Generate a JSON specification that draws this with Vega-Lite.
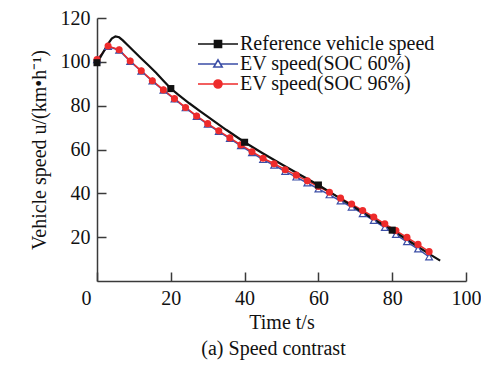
{
  "$schema": "https://vega.github.io/schema/vega-lite/v6.json",
  "width": 369,
  "height": 263,
  "autosize": {"type": "none"},
  "padding": {"left": 97, "top": 18, "right": 15, "bottom": 84},
  "background": "white",
  "title": {
    "text": "(a) Speed contrast",
    "orient": "bottom",
    "anchor": "middle",
    "font": "Liberation Serif",
    "fontSize": 20,
    "fontWeight": "normal",
    "color": "#111111",
    "offset": 7,
    "dx": -8
  },
  "data": {
    "values": [
      {"series": "Reference vehicle speed", "t": 0, "v": 99.6, "marker": true},
      {"series": "Reference vehicle speed", "t": 1, "v": 102.4, "marker": false},
      {"series": "Reference vehicle speed", "t": 2, "v": 105.3, "marker": false},
      {"series": "Reference vehicle speed", "t": 3, "v": 108.2, "marker": false},
      {"series": "Reference vehicle speed", "t": 4, "v": 110.6, "marker": false},
      {"series": "Reference vehicle speed", "t": 5, "v": 111.6, "marker": false},
      {"series": "Reference vehicle speed", "t": 6, "v": 111.2, "marker": false},
      {"series": "Reference vehicle speed", "t": 7, "v": 109.8, "marker": false},
      {"series": "Reference vehicle speed", "t": 8, "v": 108.1, "marker": false},
      {"series": "Reference vehicle speed", "t": 10, "v": 104.8, "marker": false},
      {"series": "Reference vehicle speed", "t": 12, "v": 101.5, "marker": false},
      {"series": "Reference vehicle speed", "t": 14, "v": 98.3, "marker": false},
      {"series": "Reference vehicle speed", "t": 16, "v": 95.0, "marker": false},
      {"series": "Reference vehicle speed", "t": 18, "v": 91.4, "marker": false},
      {"series": "Reference vehicle speed", "t": 20, "v": 87.8, "marker": true},
      {"series": "Reference vehicle speed", "t": 22, "v": 85.0, "marker": false},
      {"series": "Reference vehicle speed", "t": 25, "v": 81.1, "marker": false},
      {"series": "Reference vehicle speed", "t": 28, "v": 77.4, "marker": false},
      {"series": "Reference vehicle speed", "t": 30, "v": 75.0, "marker": false},
      {"series": "Reference vehicle speed", "t": 35, "v": 69.0, "marker": false},
      {"series": "Reference vehicle speed", "t": 40, "v": 63.3, "marker": true},
      {"series": "Reference vehicle speed", "t": 45, "v": 58.2, "marker": false},
      {"series": "Reference vehicle speed", "t": 50, "v": 53.3, "marker": false},
      {"series": "Reference vehicle speed", "t": 55, "v": 48.5, "marker": false},
      {"series": "Reference vehicle speed", "t": 60, "v": 43.8, "marker": true},
      {"series": "Reference vehicle speed", "t": 65, "v": 38.6, "marker": false},
      {"series": "Reference vehicle speed", "t": 70, "v": 33.4, "marker": false},
      {"series": "Reference vehicle speed", "t": 75, "v": 28.2, "marker": false},
      {"series": "Reference vehicle speed", "t": 80, "v": 23.2, "marker": true},
      {"series": "Reference vehicle speed", "t": 85, "v": 17.8, "marker": false},
      {"series": "Reference vehicle speed", "t": 90, "v": 12.4, "marker": false},
      {"series": "Reference vehicle speed", "t": 93, "v": 9.3, "marker": false},

      {"series": "EV speed(SOC 60%)", "t": 0, "v": 101.0, "marker": true},
      {"series": "EV speed(SOC 60%)", "t": 3, "v": 107.0, "marker": true},
      {"series": "EV speed(SOC 60%)", "t": 6, "v": 105.3, "marker": true},
      {"series": "EV speed(SOC 60%)", "t": 9, "v": 100.2, "marker": true},
      {"series": "EV speed(SOC 60%)", "t": 12, "v": 95.7, "marker": true},
      {"series": "EV speed(SOC 60%)", "t": 15, "v": 91.2, "marker": true},
      {"series": "EV speed(SOC 60%)", "t": 18, "v": 87.0, "marker": true},
      {"series": "EV speed(SOC 60%)", "t": 21, "v": 83.0, "marker": true},
      {"series": "EV speed(SOC 60%)", "t": 24, "v": 79.0, "marker": true},
      {"series": "EV speed(SOC 60%)", "t": 27, "v": 75.1, "marker": true},
      {"series": "EV speed(SOC 60%)", "t": 30, "v": 71.5, "marker": true},
      {"series": "EV speed(SOC 60%)", "t": 33, "v": 68.2, "marker": true},
      {"series": "EV speed(SOC 60%)", "t": 36, "v": 65.0, "marker": true},
      {"series": "EV speed(SOC 60%)", "t": 39, "v": 61.7, "marker": true},
      {"series": "EV speed(SOC 60%)", "t": 42, "v": 58.5, "marker": true},
      {"series": "EV speed(SOC 60%)", "t": 45, "v": 55.4, "marker": true},
      {"series": "EV speed(SOC 60%)", "t": 48, "v": 52.8, "marker": true},
      {"series": "EV speed(SOC 60%)", "t": 51, "v": 50.0, "marker": true},
      {"series": "EV speed(SOC 60%)", "t": 54, "v": 47.4, "marker": true},
      {"series": "EV speed(SOC 60%)", "t": 57, "v": 44.7, "marker": true},
      {"series": "EV speed(SOC 60%)", "t": 60, "v": 42.0, "marker": true},
      {"series": "EV speed(SOC 60%)", "t": 63, "v": 39.3, "marker": true},
      {"series": "EV speed(SOC 60%)", "t": 66, "v": 36.5, "marker": true},
      {"series": "EV speed(SOC 60%)", "t": 69, "v": 33.7, "marker": true},
      {"series": "EV speed(SOC 60%)", "t": 72, "v": 30.7, "marker": true},
      {"series": "EV speed(SOC 60%)", "t": 75, "v": 27.6, "marker": true},
      {"series": "EV speed(SOC 60%)", "t": 78, "v": 24.4, "marker": true},
      {"series": "EV speed(SOC 60%)", "t": 81, "v": 21.2, "marker": true},
      {"series": "EV speed(SOC 60%)", "t": 84, "v": 17.9, "marker": true},
      {"series": "EV speed(SOC 60%)", "t": 87, "v": 14.6, "marker": true},
      {"series": "EV speed(SOC 60%)", "t": 90, "v": 11.0, "marker": true},

      {"series": "EV speed(SOC 96%)", "t": 0, "v": 101.0, "marker": true},
      {"series": "EV speed(SOC 96%)", "t": 3, "v": 107.2, "marker": true},
      {"series": "EV speed(SOC 96%)", "t": 6, "v": 105.5, "marker": true},
      {"series": "EV speed(SOC 96%)", "t": 9, "v": 100.4, "marker": true},
      {"series": "EV speed(SOC 96%)", "t": 12, "v": 95.9, "marker": true},
      {"series": "EV speed(SOC 96%)", "t": 15, "v": 91.4, "marker": true},
      {"series": "EV speed(SOC 96%)", "t": 18, "v": 87.2, "marker": true},
      {"series": "EV speed(SOC 96%)", "t": 21, "v": 83.2, "marker": true},
      {"series": "EV speed(SOC 96%)", "t": 24, "v": 79.2, "marker": true},
      {"series": "EV speed(SOC 96%)", "t": 27, "v": 75.3, "marker": true},
      {"series": "EV speed(SOC 96%)", "t": 30, "v": 71.8, "marker": true},
      {"series": "EV speed(SOC 96%)", "t": 33, "v": 68.5, "marker": true},
      {"series": "EV speed(SOC 96%)", "t": 36, "v": 65.3, "marker": true},
      {"series": "EV speed(SOC 96%)", "t": 39, "v": 62.1, "marker": true},
      {"series": "EV speed(SOC 96%)", "t": 42, "v": 59.0, "marker": true},
      {"series": "EV speed(SOC 96%)", "t": 45, "v": 56.0, "marker": true},
      {"series": "EV speed(SOC 96%)", "t": 48, "v": 53.5, "marker": true},
      {"series": "EV speed(SOC 96%)", "t": 51, "v": 50.8, "marker": true},
      {"series": "EV speed(SOC 96%)", "t": 54, "v": 48.3, "marker": true},
      {"series": "EV speed(SOC 96%)", "t": 57, "v": 45.7, "marker": true},
      {"series": "EV speed(SOC 96%)", "t": 60, "v": 43.1, "marker": true},
      {"series": "EV speed(SOC 96%)", "t": 63, "v": 40.5, "marker": true},
      {"series": "EV speed(SOC 96%)", "t": 66, "v": 37.8, "marker": true},
      {"series": "EV speed(SOC 96%)", "t": 69, "v": 35.1, "marker": true},
      {"series": "EV speed(SOC 96%)", "t": 72, "v": 32.2, "marker": true},
      {"series": "EV speed(SOC 96%)", "t": 75, "v": 29.2, "marker": true},
      {"series": "EV speed(SOC 96%)", "t": 78, "v": 26.1, "marker": true},
      {"series": "EV speed(SOC 96%)", "t": 81, "v": 23.0, "marker": true},
      {"series": "EV speed(SOC 96%)", "t": 84, "v": 19.9, "marker": true},
      {"series": "EV speed(SOC 96%)", "t": 87, "v": 16.7, "marker": true},
      {"series": "EV speed(SOC 96%)", "t": 90, "v": 13.4, "marker": true}
    ]
  },
  "encoding": {
    "x": {
      "field": "t",
      "type": "quantitative",
      "scale": {"domain": [0, 100], "nice": false, "zero": false},
      "axis": {
        "title": "Time t/s",
        "values": [0, 20, 40, 60, 80, 100],
        "grid": false,
        "tickSize": -9,
        "labelPadding": 16,
        "labelFlush": false,
        "labelOffset": {"condition": {"test": "datum.value == 0", "value": -11}, "value": 0},
        "titlePadding": 4
      }
    },
    "y": {
      "field": "v",
      "type": "quantitative",
      "scale": {"domain": [0, 120], "nice": false},
      "axis": {
        "title": "Vehicle speed u/(km•h⁻¹)",
        "values": [20, 40, 60, 80, 100, 120],
        "grid": false,
        "tickSize": -9,
        "labelPadding": 16,
        "titlePadding": 11
      }
    }
  },
  "layer": [
    {
      "transform": [{"filter": "datum.series != 'Reference vehicle speed'"}],
      "mark": {"type": "line", "strokeWidth": 1.5},
      "encoding": {
        "color": {
          "field": "series",
          "type": "nominal",
          "scale": {
            "domain": ["Reference vehicle speed", "EV speed(SOC 60%)", "EV speed(SOC 96%)"],
            "range": ["#111111", "#3b4ea6", "#ee2b2b"]
          },
          "legend": {
            "title": null,
            "orient": "none",
            "legendX": 111,
            "legendY": 16,
            "padding": 0,
            "rowPadding": 0,
            "symbolSize": 256,
            "symbolStrokeWidth": 1.6,
            "symbolOpacity": 1,
            "symbolType": {"expr": "datum.value === 'Reference vehicle speed' ? 'M-2.5,0H2.5M-0.44,-0.44H0.44V0.44H-0.44Z' : datum.value === 'EV speed(SOC 60%)' ? 'M-2.5,0H-0.3M0.3,0H2.5M0,-0.52L0.52,0.38H-0.52Z' : 'M-2.5,0H2.5M0.5,0A0.5,0.5,0,1,1,-0.5,0A0.5,0.5,0,1,1,0.5,0Z'"},
            "symbolFillColor": {"expr": "datum.value === 'Reference vehicle speed' ? '#111111' : datum.value === 'EV speed(SOC 60%)' ? '#ffffff' : '#ee2b2b'"},
            "labelOffset": 12,
            "labelFont": "Liberation Serif",
            "labelFontSize": 20,
            "labelColor": "#111111",
            "labelLimit": 0
          }
        }
      }
    },
    {
      "transform": [{"filter": "datum.series == 'Reference vehicle speed'"}],
      "mark": {"type": "line", "strokeWidth": 2.2},
      "encoding": {
        "color": {"field": "series", "type": "nominal"}
      }
    },
    {
      "transform": [{"filter": "datum.series == 'EV speed(SOC 60%)'"}],
      "mark": {"type": "point", "shape": "triangle-up", "filled": false, "fill": "#ffffff", "size": 45, "strokeWidth": 1.2, "stroke": "#3b4ea6", "opacity": 1}
    },
    {
      "transform": [{"filter": "datum.series == 'EV speed(SOC 96%)'"}],
      "mark": {"type": "point", "shape": "circle", "filled": true, "size": 50, "color": "#ee2b2b", "opacity": 1}
    },
    {
      "transform": [{"filter": "datum.marker && datum.series == 'Reference vehicle speed'"}],
      "mark": {"type": "point", "shape": "square", "filled": true, "size": 50, "color": "#111111", "opacity": 1}
    }
  ],
  "config": {
    "view": {"stroke": null},
    "font": "Liberation Serif",
    "axis": {
      "domainColor": "#3a3a3a",
      "domainWidth": 1.5,
      "tickColor": "#3a3a3a",
      "tickWidth": 1.5,
      "labelFont": "Liberation Serif",
      "labelFontSize": 20,
      "labelColor": "#111111",
      "titleFont": "Liberation Serif",
      "titleFontSize": 20,
      "titleFontWeight": "normal",
      "titleColor": "#111111"
    }
  }
}
